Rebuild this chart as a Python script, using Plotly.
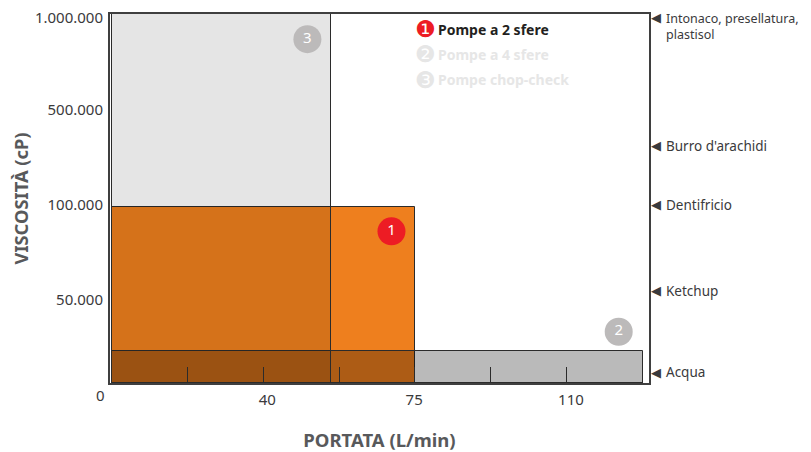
import plotly.graph_objects as go

FONT = "Noto Sans"
TEXT = "#3a3a3c"
TITLE = "#58595b"
EDGE = "#2b2b2b"

# Axis scales are ordinal: one unit per tick step (x) or per labelled level (y)
x_label_pos = [2.05, 3.99, 6.06]
x_labels = ["40", "75", "110"]
y_levels = [1, 2, 3, 3.97]
y_labels = ["50.000", "100.000", "500.000", "1.000.000"]
y_floor = 0.126
x_min, x_max = -0.026, 7.09
y_max = 4.005

series_names = ["Pompe a 2 sfere", "Pompe a 4 sfere", "Pompe chop-check"]
series_right = [4.0, 7.01, 2.89]
series_top = [1.98, 0.463, 4.0]
series_fill = ["#ee7f1e", "rgba(0,0,0,0.27)", "rgba(0,0,0,0.10)"]

badge_x = [3.69, 6.69, 2.58]
badge_y = [1.72, 0.665, 3.74]
badge_text = ["1", "2", "3"]
badge_color = ["#ed1c24", "#bcbaba", "#bcbaba"]

fluid_names = ["Intonaco, presellatura,<br>plastisol", "Burro d'arachidi", "Dentifricio", "Ketchup", "Acqua"]
fluid_y = [3.87, 2.62, 2.0, 1.095, 0.24]
fluid_size = [12.5, 13.5, 13.5, 13.5, 13.5]

legend_y = [29.5, 54.5, 79.5]
legend_color = ["#231f20", "#e6e6e6", "#e6e6e6"]
legend_dot = ["#ed1c24", "#e6e6e6", "#e6e6e6"]
legend_glyph = ["❶", "❷", "❸"]

fig = go.Figure()
for name, right, top, fill in zip(series_names, series_right, series_top, series_fill):
    fig.add_trace(go.Bar(
        x=[0], y=[top - y_floor], base=[y_floor], width=[right], offset=0, name=name,
        marker=dict(color=fill, line=dict(color=EDGE, width=1)), showlegend=False,
    ))

fig.add_trace(go.Scatter(
    x=badge_x, y=badge_y, mode="markers+text", text=badge_text, showlegend=False,
    marker=dict(size=28, color=badge_color), textposition="middle center",
    textfont=dict(family=FONT, size=15, color="white"),
))

anns = []
for name, y, fs in zip(fluid_names, fluid_y, fluid_size):
    anns.append(dict(x=x_max, y=y, xref="x", yref="y", xanchor="left", yanchor="middle", xshift=15,
                     text=name, align="left", showarrow=False, font=dict(family=FONT, size=fs, color=TEXT)))
    anns.append(dict(x=x_max, y=y, xref="x", yref="y", xanchor="left", yanchor="middle", xshift=0,
                     yshift=9 if "<br>" in name else 0,
                     text="◀", showarrow=False, font=dict(family="DejaVu Sans", size=13, color=TEXT)))
for name, yp, col, dot, g in zip(series_names, legend_y, legend_color, legend_dot, legend_glyph):
    anns.append(dict(x=(436 - 110) / 539, y=1 - (yp - 14) / 369, xref="paper", yref="paper", xanchor="left",
                     yanchor="middle", text=f"<b>{name}</b>", showarrow=False,
                     font=dict(family=FONT, size=14, color=col)))
    anns.append(dict(x=(425 - 110) / 539, y=1 - (yp - 14) / 369, xref="paper", yref="paper", xanchor="center",
                     yanchor="middle", text=g, showarrow=False,
                     font=dict(family="DejaVu Sans", size=23, color=dot)))
anns.append(dict(x=x_min, y=y_floor, xref="x", yref="y", xanchor="right", yanchor="middle", xshift=-3, yshift=-12,
                 text="0", showarrow=False, font=dict(family=FONT, size=15, color=TEXT)))

fig.update_layout(
    width=811, height=452, autosize=False,
    margin=dict(l=102, r=170, t=6, b=77),
    paper_bgcolor="white", plot_bgcolor="white",
    barmode="overlay", bargap=0,
    annotations=anns,
    xaxis=dict(
        range=[x_min, x_max], showgrid=False, zeroline=False, showline=True, mirror=True, automargin=False,
        linecolor="#3f3f3f", linewidth=2, tickmode="array", tickvals=x_label_pos, ticktext=x_labels,
        ticks="", tickfont=dict(family=FONT, size=15, color=TEXT), ticklabelstandoff=2,
        minor=dict(tick0=0, dtick=1, ticks="inside", ticklen=16, tickwidth=1, tickcolor=EDGE, showgrid=False),
        title=dict(text="<b>PORTATA (L/min)</b>", font=dict(family=FONT, size=18.5, color=TITLE), standoff=26),
    ),
    yaxis=dict(
        range=[y_floor, y_max], showgrid=False, zeroline=False, showline=True, mirror=True, automargin=False,
        linecolor="#3f3f3f", linewidth=2, tickmode="array", tickvals=y_levels, ticktext=y_labels,
        ticks="", tickfont=dict(family=FONT, size=15, color=TEXT), ticklabelstandoff=2, ticklabeloverflow="allow",
        title=dict(text="<b>VISCOSITÀ (cP)</b>", font=dict(family=FONT, size=18.3, color=TITLE), standoff=22),
    ),
)
fig.write_html("out.html")
